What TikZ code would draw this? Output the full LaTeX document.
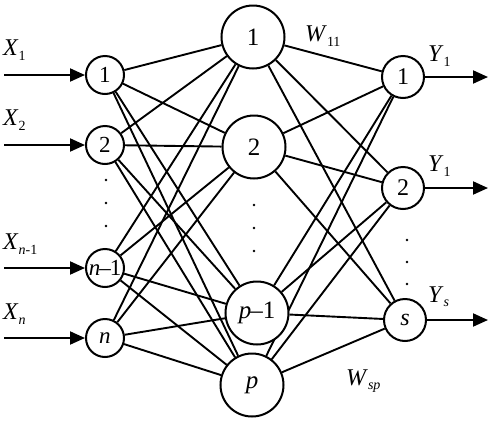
\documentclass[tikz,border=0pt]{standalone}
\usepackage{fontspec}
\setmainfont{Liberation Serif}
\usetikzlibrary{arrows.meta,backgrounds}
\newcommand{\lsub}[2]{\textit{#1}\raisebox{-0.4ex}{\fontsize{14}{14}\selectfont #2}}
\begin{document}
\begin{tikzpicture}[x=1pt,y=-1pt,
  neuron/.style={draw,circle,line width=2pt,fill=white,inner sep=0pt},
  inn/.style={neuron,minimum size=38pt,font=\fontsize{23}{23}\selectfont},
  hid/.style={neuron,minimum size=63pt,font=\fontsize{25}{25}\selectfont},
  outn/.style={neuron,minimum size=42pt,font=\fontsize{24}{24}\selectfont},
  conn/.style={line width=1.9pt},
  sig/.style={line width=2pt,-{Triangle[length=15pt,width=13pt]}},
  lab/.style={font=\fontsize{24}{24}\selectfont,inner sep=0pt},
  dot/.style={circle,fill=black,inner sep=0pt,minimum size=2.6pt}]
\useasboundingbox (0,0) rectangle (491,432);
% nodes
\node[inn] (i1) at (105,75) {1};
\node[inn] (i2) at (105,145) {2};
\node[inn] (i3) at (105,268) {\textit{n}\hspace{-1pt}–\hspace{-1pt}1};
\node[inn] (i4) at (105,338) {\textit{n}};
\node[hid] (h1) at (253,37) {1};
\node[hid] (h2) at (254,147) {2};
\node[hid] (h3) at (257,313) {\textit{p}\hspace{-1pt}–1};
\node[hid] (h4) at (252,385) {\textit{p}};
\node[outn] (o1) at (403,77) {1};
\node[outn] (o2) at (403,188) {2};
\node[outn] (o3) at (405,320) {\textit{s}};
% connections
\begin{scope}[on background layer]
\foreach \a in {i1,i2,i3,i4}{\foreach \b in {h1,h2,h3,h4}{\draw[conn] (\a) -- (\b);}}
\foreach \a in {h1,h2,h3,h4}{\foreach \b in {o1,o2,o3}{\draw[conn] (\a) -- (\b);}}
\end{scope}
% inputs
\coordinate (x1s) at (4,75);
\coordinate (x2s) at (4,145);
\coordinate (x3s) at (4,268);
\coordinate (x4s) at (4,338);
\draw[sig] (x1s) -- (i1);
\draw[sig] (x2s) -- (i2);
\draw[sig] (x3s) -- (i3);
\draw[sig] (x4s) -- (i4);
\node[lab,anchor=west] (lx1) at (3,50) {\lsub{X}{1}};
\node[lab,anchor=west] (lx2) at (3,120) {\lsub{X}{2}};
\node[lab,anchor=west] (lx3) at (3,244) {\lsub{X}{\textit{n}-1}};
\node[lab,anchor=west] (lx4) at (3,314) {\lsub{X}{\textit{n}}};
% outputs
\coordinate (y1e) at (488,77);
\coordinate (y2e) at (488,188);
\coordinate (y3e) at (488,320);
\draw[sig] (o1) -- (y1e);
\draw[sig] (o2) -- (y2e);
\draw[sig] (o3) -- (y3e);
\node[lab,anchor=west] (ly1) at (428,56) {\lsub{Y}{1}};
\node[lab,anchor=west] (ly2) at (428,166) {\lsub{Y}{1}};
\node[lab,anchor=west] (ly3) at (428,297) {\lsub{Y}{\textit{s}}};
\node[lab,anchor=west] (lw1) at (305,36) {\lsub{W}{11}};
\node[lab,anchor=west] (lw2) at (346,381) {\lsub{W}{\textit{sp}}};
% dots
\foreach \y in {180,203,226}{\node[dot] at (106,\y) {};}
\foreach \y in {205,228,251}{\node[dot] at (254,\y) {};}
\foreach \y in {240,262,284}{\node[dot] at (407,\y) {};}
\end{tikzpicture}
\end{document}
